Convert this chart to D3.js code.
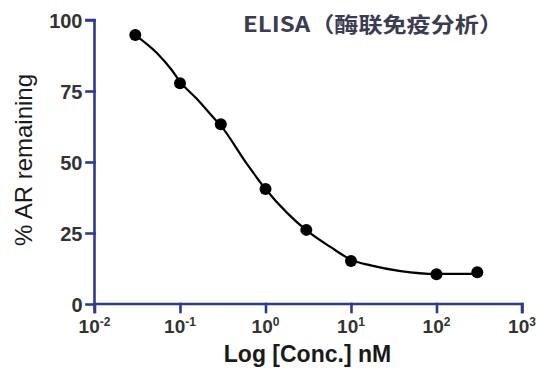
<!DOCTYPE html>
<html>
<head>
<meta charset="utf-8">
<script src="https://cdn.jsdelivr.net/npm/d3@7"></script>
<style>
  html, body { margin: 0; padding: 0; background: #fff; }
  svg { display: block; font-family: "Liberation Sans", Arial, sans-serif; }
</style>
</head>
<body>
<svg id="chart" width="543" height="369"></svg>
<script>
// measured points
const conc = [0.03, 0.1, 0.3, 1, 3, 10, 100, 300]
const remaining = [94.7, 77.7, 63.3, 40.5, 26.1, 15.1, 10.5, 11.2]

// fitted curve
const curveConc = [0.03, 0.054, 0.08, 0.1, 0.16, 0.24, 0.3, 0.6, 1, 1.8, 3, 5.8, 10, 17, 38, 100, 300]
const curveValue = [94.7, 88.3, 82.4, 78.3, 72.0, 66.0, 62.8, 49.5, 40.5, 32.0, 26.0, 20.0, 15.6, 13.6, 11.6, 10.6, 10.6]

const yTicks = [0, 25, 50, 75, 100]
const xTickExp = [-2, -1, 0, 1, 2, 3]

const title = 'ELISA（酶联免疫分析）'
const xLabel = 'Log [Conc.] nM'
const yLabel = '% AR remaining'

const axisColor = '#2f3a8c'
const tickTextColor = '#333'

const svg = d3.select('#chart')

const x = d3.scaleLog().domain([0.01, 1000]).range([94.5, 522])
const y = d3.scaleLinear().domain([0, 100]).range([304, 20])

// axes
const yAxis = svg.append('g')
  .attr('transform', `translate(${x.range()[0]},0)`)
  .call(d3.axisLeft(y).tickValues(yTicks).tickSize(8).tickPadding(4))
yAxis.select('.domain').attr('d', `M-8,${y(100)}H0V${y(0) + 8}`)

const xAxis = svg.append('g')
  .attr('transform', `translate(0,${y.range()[0]})`)
  .call(d3.axisBottom(x).tickValues(xTickExp.map(e => Math.pow(10, e))).tickSize(8).tickFormat(''))
xAxis.select('.domain').attr('d', `M${x.range()[0]},0H${x.range()[1]}V8`)

svg.selectAll('.domain, .tick line')
  .attr('stroke', axisColor)
  .attr('stroke-width', 2.6)
  .attr('stroke-linecap', 'square')

yAxis.selectAll('.tick text')
  .attr('font-size', 20)
  .attr('font-weight', 'bold')
  .attr('fill', tickTextColor)
  .attr('dy', '0.36em')

// x tick labels with superscript exponents
const xt = svg.append('g').selectAll('text')
  .data(xTickExp)
  .join('text')
  .attr('x', d => x(Math.pow(10, d)))
  .attr('y', 333)
  .attr('text-anchor', 'middle')
  .attr('font-size', 19)
  .attr('font-weight', 'bold')
  .attr('fill', tickTextColor)
xt.append('tspan').text('10')
xt.append('tspan')
  .attr('font-size', 12)
  .attr('dy', -7)
  .text(d => d)

// curve
const line = d3.line()
  .x((d, i) => x(curveConc[i]))
  .y(d => y(d))
  .curve(d3.curveMonotoneX)

svg.append('path')
  .datum(curveValue)
  .attr('d', line)
  .attr('fill', 'none')
  .attr('stroke', '#000')
  .attr('stroke-width', 2.2)

svg.append('g').selectAll('circle')
  .data(remaining)
  .join('circle')
  .attr('cx', (d, i) => x(conc[i]))
  .attr('cy', d => y(d))
  .attr('r', 6)
  .attr('fill', '#000')

// labels
svg.append('text')
  .attr('x', 307.5)
  .attr('y', 362)
  .attr('text-anchor', 'middle')
  .attr('font-size', 23)
  .attr('font-weight', 'bold')
  .attr('fill', '#1a1a1a')
  .text(xLabel)

svg.append('text')
  .attr('transform', 'translate(32,160) rotate(-90)')
  .attr('text-anchor', 'middle')
  .attr('font-size', 24)
  .attr('fill', '#1a1a1a')
  .text(yLabel)

svg.append('text')
  .attr('x', 243)
  .attr('y', 32)
  .attr('font-family', '"Noto Sans CJK SC", "Liberation Sans", sans-serif')
  .attr('font-size', 21)
  .attr('font-weight', 'bold')
  .attr('fill', '#3b3b52')
  .attr('textLength', 260)
  .attr('lengthAdjust', 'spacingAndGlyphs')
  .text(title)
</script>
</body>
</html>
